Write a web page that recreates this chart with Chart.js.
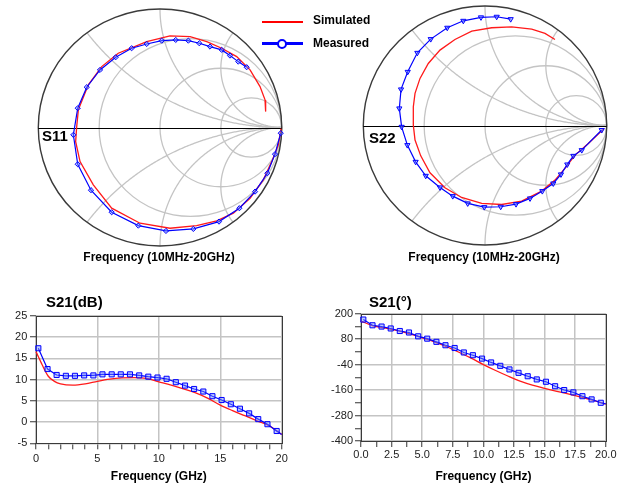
<!DOCTYPE html>
<html><head><meta charset="utf-8">
<script src="https://cdn.jsdelivr.net/npm/chart.js@4.4.1/dist/chart.umd.min.js"></script>
<style>
html,body{margin:0;padding:0;background:#fff;width:618px;height:488px;overflow:hidden;}
body{position:relative;font-family:"Liberation Sans",Arial,sans-serif;}
canvas{position:absolute;}
.t{position:absolute;white-space:nowrap;color:#000;font-weight:bold;}
</style></head><body>
<canvas id="s11" width="264" height="258" style="left:28px;top:0px"></canvas>
<canvas id="s22" width="264" height="258" style="left:353px;top:0px"></canvas>
<canvas id="db" width="300" height="183" style="left:0px;top:305px"></canvas>
<canvas id="ph" width="308" height="183" style="left:310px;top:305px"></canvas>

<div style="position:absolute;left:262px;top:20.5px;width:41px;height:2px;background:#ff0000"></div>
<div class="t" style="left:313px;top:13px;font-size:12px;line-height:14px">Simulated</div>
<div style="position:absolute;left:262px;top:42px;width:41px;height:2.5px;background:#0000ff"></div>
<div style="position:absolute;left:277px;top:38.5px;width:6px;height:6px;border:2px solid #0000ff;border-radius:50%;background:#fff"></div>
<div class="t" style="left:313px;top:36px;font-size:12px;line-height:14px">Measured</div>

<div class="t" style="left:42px;top:128px;font-size:15px;line-height:16px">S11</div>
<div class="t" style="left:369px;top:130px;font-size:15px;line-height:16px">S22</div>
<div class="t" style="left:59px;width:200px;text-align:center;top:250px;font-size:12px;line-height:14px">Frequency (10MHz-20GHz)</div>
<div class="t" style="left:384px;width:200px;text-align:center;top:250px;font-size:12px;line-height:14px">Frequency (10MHz-20GHz)</div>
<div class="t" style="left:46px;top:293px;font-size:15px;line-height:17px">S21(dB)</div>
<div class="t" style="left:369px;top:293px;font-size:15px;line-height:17px">S21(°)</div>

<script>
// ---------- DATA ----------
// S11 (reflection coefficient, real / imaginary), in frequency order 10 MHz -> 20 GHz
const s11MeasRe = [0.992,0.945,0.882,0.781,0.652,0.485,0.274,0.049,-0.178,-0.397,-0.567,-0.676,-0.712,-0.676,-0.602,-0.493,-0.364,-0.233,-0.109,0.014,0.129,0.233,0.323,0.411,0.507,0.575,0.643,0.712];
const s11MeasIm = [-0.048,-0.225,-0.386,-0.541,-0.681,-0.794,-0.856,-0.873,-0.828,-0.715,-0.529,-0.310,-0.062,0.163,0.340,0.486,0.593,0.669,0.705,0.733,0.739,0.733,0.711,0.683,0.655,0.607,0.556,0.509];
const s11SimRe = [0.995,0.972,0.918,0.849,0.740,0.603,0.466,0.301,0.082,-0.164,-0.397,-0.548,-0.657,-0.693,-0.685,-0.671,-0.589,-0.479,-0.343,-0.109,0.082,0.247,0.384,0.507,0.630,0.740,0.822,0.863,0.868];
const s11SimIm = [-0.010,-0.147,-0.288,-0.442,-0.597,-0.723,-0.788,-0.828,-0.850,-0.808,-0.681,-0.484,-0.288,-0.119,0.000,0.149,0.360,0.514,0.627,0.725,0.773,0.767,0.725,0.669,0.598,0.486,0.345,0.233,0.134];
// S22
const s22MeasRe = [0.959,0.795,0.726,0.676,0.624,0.561,0.471,0.370,0.255,0.129,-0.006,-0.142,-0.265,-0.370,-0.487,-0.570,-0.638,-0.685,-0.704,-0.690,-0.635,-0.556,-0.446,-0.310,-0.178,-0.033,0.096,0.211];
const s22MeasIm = [-0.038,-0.206,-0.254,-0.326,-0.409,-0.485,-0.549,-0.610,-0.658,-0.680,-0.683,-0.652,-0.591,-0.518,-0.421,-0.304,-0.164,-0.011,0.143,0.302,0.449,0.608,0.723,0.818,0.876,0.905,0.910,0.890];
const s22SimRe = [0.980,0.849,0.740,0.657,0.575,0.466,0.301,0.137,-0.027,-0.192,-0.329,-0.452,-0.528,-0.575,-0.589,-0.589,-0.575,-0.534,-0.466,-0.370,-0.247,-0.109,0.055,0.219,0.384,0.493,0.575];
const s22SimIm = [-0.024,-0.150,-0.248,-0.359,-0.457,-0.549,-0.633,-0.661,-0.652,-0.602,-0.521,-0.396,-0.254,-0.122,0.003,0.157,0.269,0.394,0.519,0.631,0.720,0.790,0.818,0.826,0.807,0.771,0.720];
// S21 (GHz)
const measFreq = [0.19,0.94,1.68,2.43,3.17,3.92,4.67,5.41,6.16,6.90,7.65,8.40,9.14,9.89,10.63,11.38,12.13,12.87,13.62,14.36,15.11,15.86,16.60,17.35,18.09,18.84,19.59,20];
const s21MeasDb = [17.4,12.5,11.1,10.9,10.9,11.0,11.0,11.25,11.25,11.25,11.25,11.0,10.7,10.5,10.2,9.4,8.6,7.8,7.2,6.1,5.2,4.2,3.15,2.05,0.7,-0.5,-2.1,-2.95];
const simDbFreq = [0,0.5,1,1.5,2,3,4,5,6,7,8,9,10,11,12,13,14,15,16,17,18,19,20];
const s21SimDb = [16.6,13.5,10.8,9.6,9.0,8.7,9.0,9.6,10.1,10.4,10.5,10.3,9.5,8.7,7.8,6.9,5.6,4.0,2.7,1.5,0.3,-0.9,-2.9];
const s21MeasPhase = [172,145,139,130,118,111,93,82,67,51,38,17,4,-12,-30,-46,-63,-79,-95,-110,-121,-142,-160,-171,-189,-204,-220,-225];
const simPhFreq = [0,1,2,3,4,5,6,7,8,9,10,11,12,13,14,15,16,17,18,19,20];
const s21SimPhase = [165,142,132,120,104,86,67,44,18,-10,-40,-68,-94,-118,-137,-152,-166,-179,-193,-209,-226];
// Smith grid values
const smithR = [1/3, 1, 3];
const smithX = [0.5, 1, 2];

// ---------- HELPERS ----------
const BLUE = '#0000ff', RED = '#ff1a1a', MFILL = 'rgba(110,140,255,0.45)';
const FONT = '"Liberation Sans", Arial, sans-serif';
const pts = (a, b) => a.map((v, i) => ({x: v, y: b[i]}));

const smithGrid = {
  id: 'smithGrid',
  beforeDatasetsDraw(chart) {
    const {ctx, scales: {x, y}} = chart;
    const P = (re, im) => [x.getPixelForValue(re), y.getPixelForValue(im)];
    const sx = (x.getPixelForValue(1) - x.getPixelForValue(-1)) / 2;
    const sy = (y.getPixelForValue(-1) - y.getPixelForValue(1)) / 2;
    ctx.save();
    ctx.strokeStyle = '#c4c4c4';
    ctx.lineWidth = 1.3;
    // constant resistance circles
    smithR.forEach(r => {
      const c = P(r / (1 + r), 0), rad = 1 / (1 + r);
      ctx.beginPath();
      ctx.ellipse(c[0], c[1], rad * sx, rad * sy, 0, 0, Math.PI * 2);
      ctx.stroke();
    });
    // constant reactance arcs
    smithX.forEach(xv => {
      const R = 1 / xv;
      const px = (xv * xv - 1) / (xv * xv + 1), py = 2 * xv / (xv * xv + 1);
      let tp = Math.atan2(py - R, px - 1);
      if (tp > 0) tp -= 2 * Math.PI;
      [1, -1].forEach(sgn => {
        ctx.beginPath();
        const N = 200;
        for (let i = 0; i <= N; i++) {
          const t = -Math.PI / 2 + (tp + Math.PI / 2) * i / N;
          const re = 1 + R * Math.cos(t), im = sgn * (R + R * Math.sin(t));
          const p = P(re, im);
          if (i === 0) ctx.moveTo(p[0], p[1]); else ctx.lineTo(p[0], p[1]);
        }
        ctx.stroke();
      });
    });
    // outer circle
    const c0 = P(0, 0);
    ctx.strokeStyle = '#3a3a3a';
    ctx.lineWidth = 1.4;
    ctx.beginPath();
    ctx.ellipse(c0[0], c0[1], sx, sy, 0, 0, Math.PI * 2);
    ctx.stroke();
    // real axis
    const a = P(-1, 0), b = P(1, 0);
    ctx.strokeStyle = '#000';
    ctx.lineWidth = 1;
    ctx.beginPath();
    ctx.moveTo(a[0], Math.round(a[1]) + 0.5);
    ctx.lineTo(b[0], Math.round(b[1]) + 0.5);
    ctx.stroke();
    ctx.restore();
  }
};

function smithChart(id, meas, sim, style, rad, rot, pad) {
  return new Chart(document.getElementById(id), {
    type: 'scatter',
    data: {datasets: [
      {data: meas, showLine: true, borderColor: BLUE, borderWidth: 1.2, pointStyle: style, rotation: rot,
       pointRadius: rad, pointBorderColor: BLUE, pointBackgroundColor: MFILL, pointBorderWidth: 1, clip: false},
      {data: sim, showLine: true, borderColor: RED, borderWidth: 1.3, pointRadius: 0, clip: false}
    ]},
    options: {
      responsive: false, animation: false, devicePixelRatio: 1, events: [],
      layout: {padding: pad},
      scales: {
        x: {type: 'linear', min: -1, max: 1, display: false},
        y: {type: 'linear', min: -1, max: 1, display: false}
      },
      plugins: {legend: {display: false}, tooltip: {enabled: false}}
    },
    plugins: [smithGrid]
  });
}

smithChart('s11', pts(s11MeasRe, s11MeasIm), pts(s11SimRe, s11SimIm), 'rectRot', 2.6, 0,
  {left: 10.3, right: 10.3, top: 9, bottom: 12});
smithChart('s22', pts(s22MeasRe, s22MeasIm), pts(s22SimRe, s22SimIm), 'triangle', 3, 180,
  {left: 10.3, right: 10.3, top: 6, bottom: 13});

const frame = {
  id: 'frame',
  beforeDatasetsDraw(chart) {
    const {ctx, chartArea: a} = chart;
    ctx.save();
    ctx.strokeStyle = '#3a3a3a';
    ctx.lineWidth = 1;
    ctx.strokeRect(Math.round(a.left) + 0.5, Math.round(a.top) + 0.5,
      Math.round(a.right - a.left), Math.round(a.bottom - a.top));
    ctx.restore();
  }
};

function lineChart(id, cfg) {
  const last = measFreq.length - 1;
  return new Chart(document.getElementById(id), {
    type: 'scatter',
    data: {datasets: [
      {data: pts(measFreq, cfg.meas), showLine: true, borderColor: BLUE, borderWidth: 1.2,
       pointStyle: 'rect', pointRadius: c => c.dataIndex === last ? 0 : 3.6,
       pointBorderColor: BLUE, pointBackgroundColor: MFILL, pointBorderWidth: 1, clip: false},
      {data: pts(cfg.simF, cfg.sim), showLine: true, borderColor: RED, borderWidth: 1.3,
       pointRadius: 0, cubicInterpolationMode: 'monotone', clip: false}
    ]},
    options: {
      responsive: false, animation: false, devicePixelRatio: 1, events: [],
      layout: {padding: cfg.pad},
      scales: {
        x: {
          type: 'linear', min: 0, max: 20,
          afterFit: s => { s.height = cfg.xh; },
          grid: {color: c => (c.tick && cfg.xMajor(c.tick.value)) ? '#c4c4c4' : 'rgba(0,0,0,0)',
                 lineWidth: 1.5, tickColor: '#333', tickLength: 6, tickWidth: 1},
          border: {display: false},
          ticks: {stepSize: cfg.xStep, autoSkip: false, maxRotation: 0, padding: cfg.xPad,
                  color: '#222', font: {family: FONT, size: 11},
                  callback: v => cfg.xMajor(v) ? cfg.xFmt(v) : ''},
          title: {display: true, text: 'Frequency (GHz)', color: '#000', padding: 0,
                  font: {family: FONT, size: 12, weight: 'bold'}}
        },
        y: {
          type: 'linear', min: cfg.yMin, max: cfg.yMax,
          afterFit: s => { s.width = cfg.yw; },
          grid: {color: c => (c.tick && cfg.yMajor(c.tick.value)) ? '#c4c4c4' : 'rgba(0,0,0,0)',
                 lineWidth: 1.5, tickColor: '#333', tickLength: 6, tickWidth: 1},
          border: {display: false},
          ticks: {stepSize: cfg.yStep, autoSkip: false, padding: cfg.yPad,
                  color: '#222', font: {family: FONT, size: 11},
                  callback: v => cfg.yMajor(v) ? String(v) : ''}
        }
      },
      plugins: {legend: {display: false}, tooltip: {enabled: false}}
    },
    plugins: [frame]
  });
}

const near = (v, s) => Math.abs(v / s - Math.round(v / s)) < 1e-6;

lineChart('db', {
  meas: s21MeasDb, simF: simDbFreq, sim: s21SimDb,
  pad: {left: 0, right: 18.3, top: 11, bottom: 4}, xh: 40.7, yw: 36,
  xStep: 1, xMajor: v => near(v, 5), xFmt: v => String(Math.round(v)), xPad: 3,
  yMin: -5, yMax: 25, yStep: 5, yMajor: v => true, yPad: 2.7
});

lineChart('ph', {
  meas: s21MeasPhase, simF: simPhFreq, sim: s21SimPhase,
  pad: {left: 0, right: 11.3, top: 8.3, bottom: 4}, xh: 43, yw: 51,
  xStep: 1.25, xMajor: v => near(v, 2.5), xFmt: v => v.toFixed(1), xPad: 1.5,
  yMin: -400, yMax: 200, yStep: 60, yMajor: v => near(v + 400, 120), yPad: 2
});
</script>
</body></html>
